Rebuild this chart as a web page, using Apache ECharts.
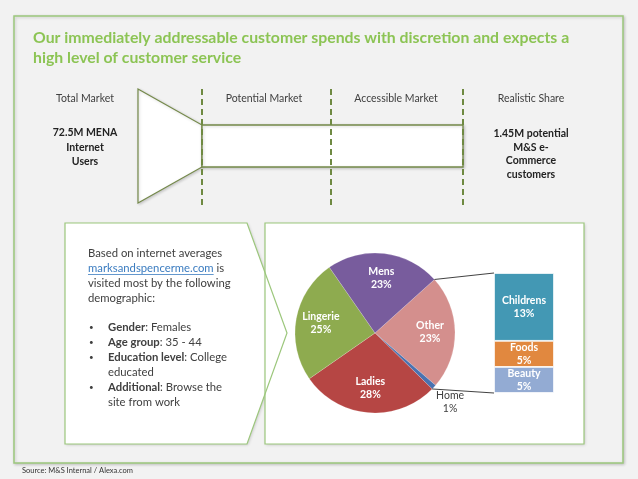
<!DOCTYPE html>
<html>
<head>
<meta charset="utf-8">
<script src="https://cdn.jsdelivr.net/npm/echarts@6/dist/echarts.min.js"></script>
<style>
html, body { margin: 0; padding: 0; background: #f2f2f2; }
#divChart { width: 638px; height: 479px; }
</style>
</head>
<body>
<div id="divChart"></div>
<script>
// 数据
var titleLines = ['Our immediately addressable customer spends with discretion and expects a',
                  'high level of customer service'];
var stageNames = ['Total Market', 'Potential Market', 'Accessible Market', 'Realistic Share'];
var totalMarketLines = ['72.5M MENA', 'Internet', 'Users'];
var realisticShareLines = ['1.45M potential', 'M&S e-', 'Commerce', 'customers'];
var pieNames = ['Other', 'Home', 'Ladies', 'Lingerie', 'Mens'];
var pieValues = [23, 1, 28, 25, 23];
var outsideSlices = ['Home'];
var otherNames = ['Beauty', 'Foods', 'Childrens'];
var otherValues = [5, 5, 13];
var sourceText = 'Source: M&S Internal / Alexa.com';

var pieColors = ['#d48f8d', '#4a72b0', '#b64644', '#8eab4f', '#785c9d'];
var otherColors = ['#93abd3', '#e1883f', '#4398b4'];

var FONT = 'Lato';
var GREEN = '#9cc77c';
var OLIVE = '#74894a';
var TEXT = '#404040';

// 布局
var pieCenter = [375, 333];
var pieRadius = 80;
var pieStart = 42;
var outsideLabelR = 102;
var barBox = { left: 494, top: 273, width: 60, height: 120 };

var divChart = echarts.init(document.getElementById('divChart'));

function txt(text, x, y, opt) {
  opt = opt || {};
  return {
    type: 'text', z: 5,
    style: {
      text: text, x: x, y: y,
      fontFamily: FONT, fontSize: opt.size || 10.5,
      fontWeight: opt.weight || 'normal',
      fill: opt.color || TEXT,
      align: opt.align || 'center', textAlign: opt.align || 'center',
      verticalAlign: 'middle', textVerticalAlign: 'middle',
      rich: opt.rich
    }
  };
}

var shadow = { shadowBlur: 3, shadowColor: 'rgba(0,0,0,0.18)', shadowOffsetX: 1, shadowOffsetY: 1 };

var elements = [];
// 外框
elements.push({ type: 'rect', z: 0, shape: { x: 14, y: 16, width: 609, height: 447 },
  style: Object.assign({ fill: '#f2f2f2', stroke: GREEN, lineWidth: 1.5 }, shadow) });
// 标题
for (var i = 0; i < titleLines.length; i++) {
  elements.push(txt(titleLines[i], 33, 38 + i * 20, { size: 15.8, weight: 'bold', color: '#8cc454', align: 'left' }));
}
// 漏斗
elements.push({ type: 'polygon', z: 1, shape: { points: [[138, 89], [202, 125], [202, 167], [138, 203]] },
  style: Object.assign({ fill: '#fff', stroke: OLIVE, lineWidth: 1.2 }, shadow) });
elements.push({ type: 'rect', z: 1, shape: { x: 202, y: 125, width: 261, height: 42 },
  style: Object.assign({ fill: '#fff', stroke: OLIVE, lineWidth: 1.4 }, shadow) });
var dashX = [202, 331, 463];
for (i = 0; i < dashX.length; i++) {
  elements.push({ type: 'line', z: 2, shape: { x1: dashX[i], y1: 89, x2: dashX[i], y2: 205 },
    style: { stroke: '#6f8a42', lineWidth: 2, lineDash: [6, 4] } });
}
var stageX = [85, 264, 396, 531];
for (i = 0; i < stageNames.length; i++) {
  elements.push(txt(stageNames[i], stageX[i], 99, { size: 10.5 }));
}
for (i = 0; i < totalMarketLines.length; i++) {
  elements.push(txt(totalMarketLines[i], 85, 133 + i * 14.5, { size: 10.5, weight: 'bold', color: '#222' }));
}
for (i = 0; i < realisticShareLines.length; i++) {
  elements.push(txt(realisticShareLines[i], 531, 134 + i * 13.5, { size: 10.5, weight: 'bold', color: '#222' }));
}
// 文本框与饼图框：先填充，后描边
var arrowPts = [[65, 223], [247, 223], [287, 333], [247, 444], [65, 444]];
var pieBox = { x: 265, y: 223, width: 319, height: 221 };
elements.push({ type: 'polygon', z: 1, shape: { points: arrowPts },
  style: Object.assign({ fill: '#fff' }, shadow) });
elements.push({ type: 'rect', z: 1, shape: pieBox, style: Object.assign({ fill: '#fff' }, shadow) });
elements.push({ type: 'polygon', z: 2, shape: { points: arrowPts },
  style: { fill: 'none', stroke: GREEN, lineWidth: 1.2 } });
elements.push({ type: 'rect', z: 2, shape: pieBox, style: { fill: 'none', stroke: GREEN, lineWidth: 1.2 } });

var linkText = 'marksandspencerme.com';
var bodySize = 11.3;
var bodyLines = ['Based on internet averages', '{a|' + linkText + '} is', 'visited most by the following', 'demographic:'];
var rich = { a: { fill: '#3b7cc0', color: '#3b7cc0', fontFamily: FONT, fontSize: bodySize },
             b: { fontWeight: 'bold', fill: TEXT, fontFamily: FONT, fontSize: bodySize } };
for (i = 0; i < bodyLines.length; i++) {
  elements.push(txt(bodyLines[i], 88, 253 + i * 15, { size: bodySize, align: 'left', rich: rich }));
}
var ctx = document.createElement('canvas').getContext('2d');
ctx.font = bodySize + 'px ' + FONT;
var linkW = ctx.measureText(linkText).width;
elements.push({ type: 'line', z: 5, shape: { x1: 88, y1: 274.5, x2: 88 + linkW, y2: 274.5 },
  style: { stroke: '#3b7cc0', lineWidth: 0.8 } });
var bullets = [['{b|Gender}: Females'], ['{b|Age group}: 35 - 44'], ['{b|Education level}: College', 'educated'],
               ['{b|Additional}: Browse the', 'site from work']];
var by = 327;
for (i = 0; i < bullets.length; i++) {
  elements.push(txt('•', 89, by, { size: 8, align: 'left' }));
  for (var j = 0; j < bullets[i].length; j++) {
    elements.push(txt(bullets[i][j], 108, by, { size: bodySize, align: 'left', rich: rich }));
    by += 15;
  }
}
elements.push(txt(sourceText, 22, 471, { size: 7.5, color: '#333', align: 'left' }));

// 扇区外部标签（Home），按数据计算角度
var rad = Math.PI / 180;
var pieTotal = pieValues.reduce(function (a, b) { return a + b; }, 0);
var acc = 0;
for (i = 0; i < pieNames.length; i++) {
  var midA = (pieStart - (acc + pieValues[i] / 2) / pieTotal * 360) * rad;
  acc += pieValues[i];
  if (outsideSlices.indexOf(pieNames[i]) >= 0) {
    var lx = pieCenter[0] + outsideLabelR * Math.cos(midA);
    var ly = pieCenter[1] - outsideLabelR * Math.sin(midA);
    elements.push(txt(pieNames[i], lx, ly - 6.5, { size: 10.5 }));
    elements.push(txt(pieValues[i] + '%', lx, ly + 6.5, { size: 10.5 }));
  }
}

var pieData = pieNames.map(function (n, k) {
  return { name: n, value: pieValues[k], itemStyle: { color: pieColors[k] } };
});
var labelData = pieNames.map(function (n, k) {
  return { name: n, value: pieValues[k], label: { show: outsideSlices.indexOf(n) < 0 } };
});
var barTotal = otherValues.reduce(function (a, b) { return a + b; }, 0);

var option = {
  backgroundColor: '#f2f2f2',
  animation: false,
  textStyle: { fontFamily: FONT },
  graphic: { elements: elements },
  grid: { left: barBox.left, top: barBox.top, width: barBox.width, height: barBox.height },
  xAxis: { type: 'category', data: ['Other'], show: false },
  yAxis: { type: 'value', min: 0, max: barTotal, show: false },
  series: [
    { type: 'pie', center: pieCenter, radius: [0, pieRadius], startAngle: pieStart, clockwise: true,
      data: pieData, label: { show: false }, labelLine: { show: false }, silent: true,
      itemStyle: { borderColor: 'rgba(255,255,255,0.35)', borderWidth: 0.5 } },
    { type: 'pie', center: pieCenter, radius: [24, pieRadius], startAngle: pieStart, silent: true,
      data: labelData, itemStyle: { color: 'transparent' },
      label: { position: 'inside', formatter: '{b}\n{c}%', color: '#fff', fontSize: 10.5, fontWeight: 'bold',
               lineHeight: 13, fontFamily: FONT }, labelLine: { show: false } }
  ].concat(otherNames.map(function (n, k) {
    return { type: 'bar', name: n, stack: 'other', barWidth: '100%', data: [otherValues[k]],
      itemStyle: { color: otherColors[k], borderColor: '#fff', borderWidth: 0.8 }, silent: true,
      label: { show: true, position: 'inside', formatter: '{a}\n{c}%', color: '#fff', fontSize: 10.5,
               fontWeight: 'bold', lineHeight: 13, fontFamily: FONT } };
  }))
};
divChart.setOption(option);

// 连接线：饼图 Other+Home 扇区边缘到堆叠柱
var a1 = pieStart * rad;
var a2 = (pieStart - (pieValues[0] + pieValues[1]) / pieTotal * 360) * rad;
var pTop = divChart.convertToPixel({ gridIndex: 0 }, ['Other', barTotal]);
var pBot = divChart.convertToPixel({ gridIndex: 0 }, ['Other', 0]);
divChart.setOption({ graphic: { elements: [
  { id: 'conn1', type: 'line', z: 10, shape: { x1: pieCenter[0] + pieRadius * Math.cos(a1), y1: pieCenter[1] - pieRadius * Math.sin(a1),
      x2: barBox.left, y2: pTop[1] }, style: { stroke: '#111', lineWidth: 0.8 } },
  { id: 'conn2', type: 'line', z: 10, shape: { x1: pieCenter[0] + pieRadius * Math.cos(a2), y1: pieCenter[1] - pieRadius * Math.sin(a2),
      x2: barBox.left, y2: pBot[1] }, style: { stroke: '#111', lineWidth: 0.8 } }
] } });
</script>
</body>
</html>
